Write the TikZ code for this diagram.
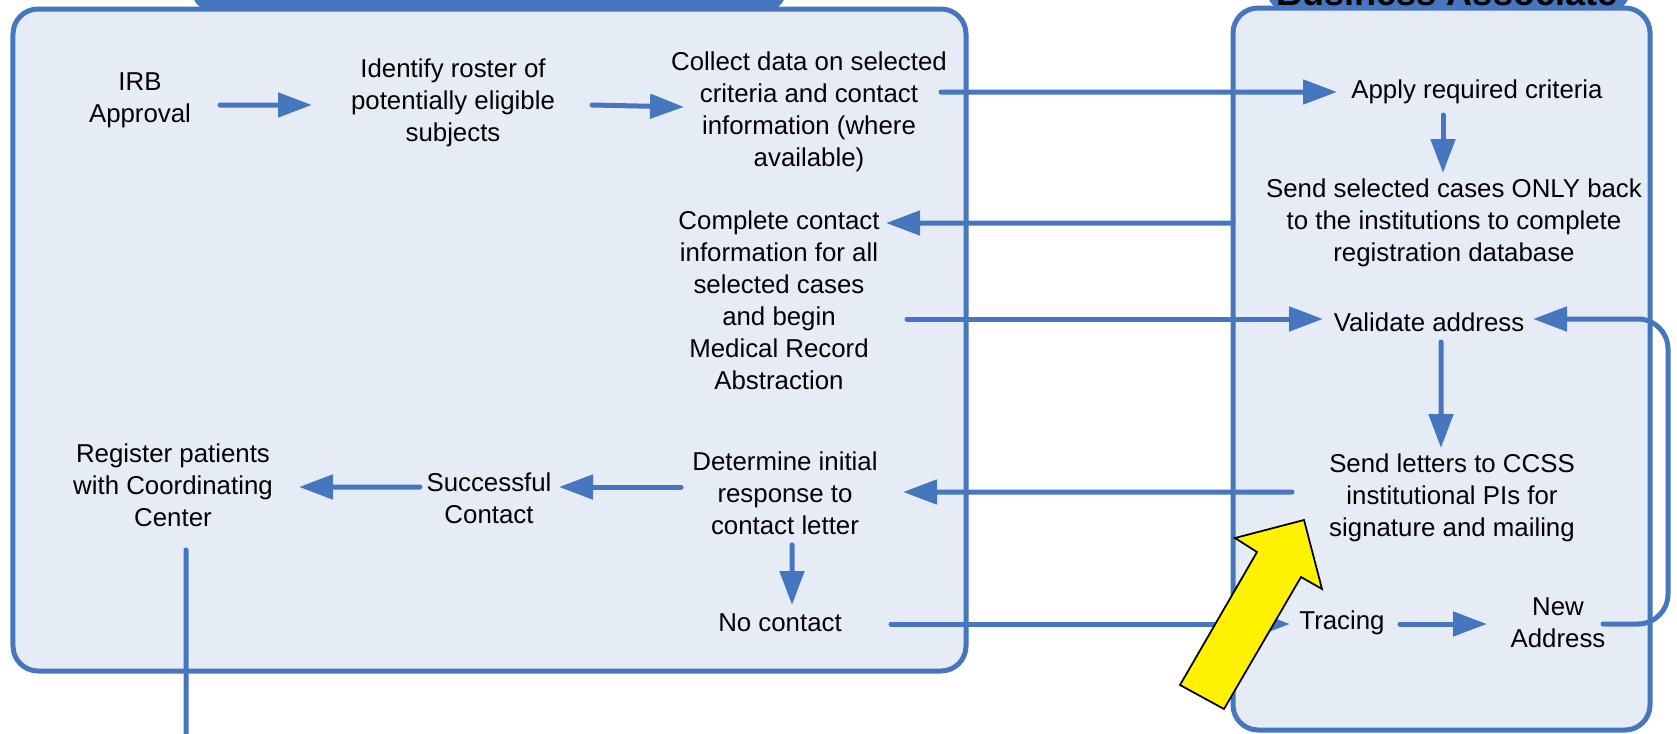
\documentclass[tikz,border=0pt]{standalone}
\usepackage{fontspec}
\setmainfont{Liberation Sans}
\usetikzlibrary{arrows.meta,calc}
\definecolor{flowblue}{RGB}{70,119,190}
\definecolor{panelfill}{RGB}{230,236,246}

\begin{document}
\begin{tikzpicture}[
		panel/.style = {draw=flowblue, fill=panelfill, line width=0.1cm, rounded corners=0.5cm, outer sep=0pt, inner sep=0pt},
		tab/.style = {fill=flowblue, rounded corners=0.4cm},
		txt/.style = {align=center, inner sep=0pt, font=\fontsize{14.7}{18.2}\selectfont},
		conn/.style = {draw, color=flowblue, line width=0.1cm, line cap=round, -{Triangle[length=0.68cm,width=0.48cm]}},
		connline/.style = {draw, color=flowblue, line width=0.1cm, line cap=round}
	]
	\useasboundingbox (0,0) rectangle (33.54,-14.66);
	\clip (0,0) rectangle (33.54,-14.66);
	% tabs, cut off by the top edge
	\fill[tab] (3.84,0.9) rectangle (15.72,-0.22);
	\fill[tab] (25.34,0.9) rectangle (32.60,-0.22);
	\node[panel, minimum width=19.06cm, minimum height=13.24cm] (Inst) at (9.79,-6.80) {};
	\node[panel, minimum width=8.34cm, minimum height=14.44cm] (BAbox) at (28.83,-7.38) {};
	\node[anchor=base, inner sep=0pt, font=\bfseries\fontsize{20.5}{24}\selectfont] (BAhead) at (28.94,-0.10) {Business Associate};

		\node[txt] (IRB) at (2.80,-2.00) {IRB\\Approval};
		\node[txt] (Roster) at (9.06,-2.06) {Identify roster of\\potentially eligible\\subjects};
		\node[txt] (Collect) at (16.18,-2.24) {Collect data on selected\\criteria and contact\\information (where\\available)};
		\node[txt] (Apply) at (29.54,-1.84) {Apply required criteria};
		\node[txt] (SendSel) at (29.08,-4.46) {Send selected cases ONLY back\\to the institutions to complete\\registration database};
		\node[txt] (Complete) at (15.58,-6.00) {Complete contact\\information for all\\selected cases\\and begin\\Medical Record\\Abstraction};
		\node[txt] (Validate) at (28.58,-6.44) {Validate address};
		\node[txt] (Letters) at (29.04,-9.96) {Send letters to CCSS\\institutional PIs for\\signature and mailing};
		\node[txt] (Determine) at (15.70,-9.86) {Determine initial\\response to\\contact letter};
		\node[txt] (Success) at (9.78,-9.96) {Successful\\Contact};
		\node[txt] (Register) at (3.46,-9.70) {Register patients\\with Coordinating\\Center};
		\node[txt] (NoContact) at (15.60,-12.46) {No contact};
		\node[txt] (Tracing) at (26.84,-12.46) {Tracing};
		\node[txt] (NewAddr) at (31.16,-12.46) {New\\Address};
		\coordinate (regout) at (3.72,-15.00);

		\path ($(IRB) + (1.60,-0.10)$) edge[conn] ($(Roster) + (-2.82,-0.04)$)
			($(Roster) + (2.78,-0.04)$) edge[conn] ($(Collect) + (-2.50,0.10)$)
			($(Collect) + (2.64,0.40)$) edge[conn] ($(Apply) + (-2.80,0)$)
			($(Apply) + (-0.68,-0.46)$) edge[conn] ($(SendSel) + (-0.22,1.00)$)
			(BAbox.west |- SendSel) edge[conn] ($(Complete) + (2.14,1.54)$)
			($(Complete) + (2.56,-0.38)$) edge[conn] ($(Validate) + (-2.12,0.06)$)
			($(Validate) + (0.24,-0.40)$) edge[conn] ($(Letters) + (-0.22,1.00)$)
			($(Letters) + (-3.20,0.12)$) edge[conn] ($(Determine) + (2.36,0.02)$)
			($(Determine) + (-2.08,0.12)$) edge[conn] ($(Success) + (1.40,0.22)$)
			($(Success) + (-1.38,0.22)$) edge[conn] ($(Register) + (2.52,-0.04)$)
			($(Determine) + (0.14,-1.04)$) edge[conn] ($(NoContact) + (0.24,0.36)$)
			($(NoContact) + (2.22,-0.02)$) edge[conn] ($(Tracing) + (-1.04,-0.02)$)
			($(Tracing) + (1.16,-0.02)$) edge[conn] ($(NewAddr) + (-1.42,-0.02)$);
		\draw[conn, rounded corners=0.6cm] ($(NewAddr) + (0.90,-0.02)$) -- ++(1.30,0) |- ($(Validate) + (2.08,0.06)$);
		\draw[connline] ($(Register) + (0.26,-1.30)$) -- (regout);

	% yellow pointer
	\filldraw[fill=yellow, draw=black, line width=0.035cm] (26.08,-10.40) -- (24.70,-10.76) -- (25.14,-11.04) -- (23.60,-13.70) -- (24.48,-14.18) -- (26.02,-11.54) -- (26.44,-11.78) -- cycle;
\end{tikzpicture}
\end{document}
